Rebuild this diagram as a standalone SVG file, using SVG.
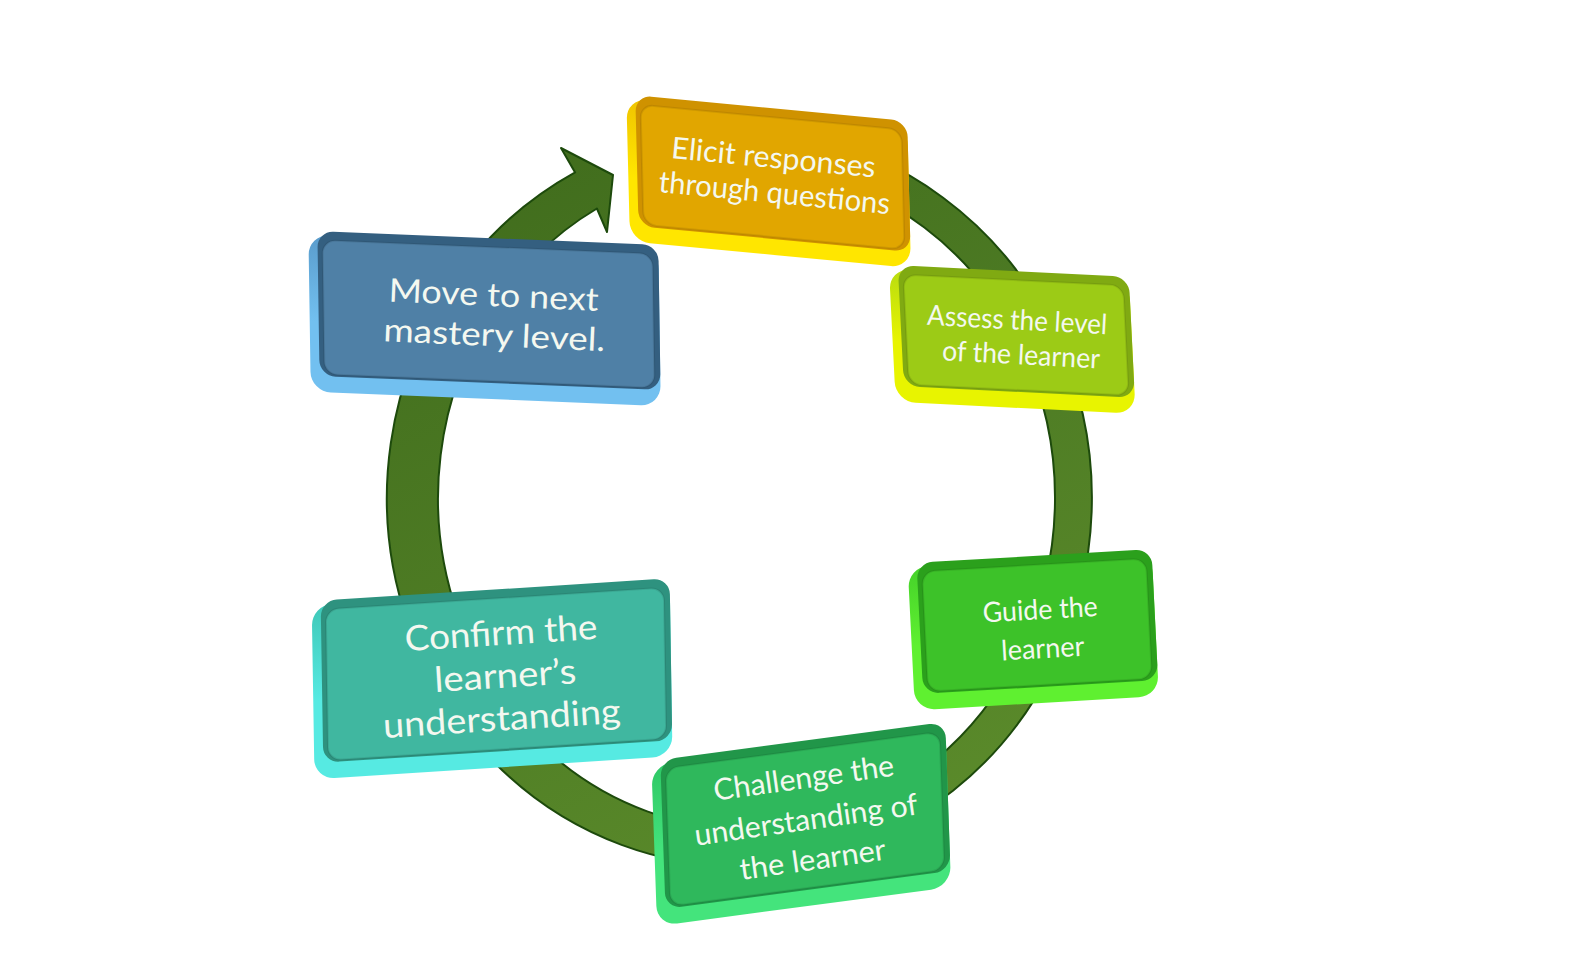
<svg xmlns="http://www.w3.org/2000/svg" width="1589" height="973" viewBox="0 0 1589 973">
<defs>
  <linearGradient id="ringG" gradientUnits="userSpaceOnUse" x1="560" y1="140" x2="900" y2="860">
    <stop offset="0" stop-color="#416d1d"/>
    <stop offset="1" stop-color="#5b8b2b"/>
  </linearGradient>
  <linearGradient id="sEl" x1="0" y1="0" x2="0" y2="1"><stop offset="0" stop-color="#f0c400"/><stop offset="0.55" stop-color="#ffe600"/></linearGradient>
  <linearGradient id="sMo" x1="0" y1="0" x2="0" y2="1"><stop offset="0" stop-color="#5a9ccc"/><stop offset="0.55" stop-color="#72c0f0"/></linearGradient>
  <linearGradient id="sAs" x1="0" y1="0" x2="0" y2="1"><stop offset="0" stop-color="#b8dc10"/><stop offset="0.55" stop-color="#e8f400"/></linearGradient>
  <linearGradient id="sGu" x1="0" y1="0" x2="0" y2="1"><stop offset="0" stop-color="#45d22a"/><stop offset="0.55" stop-color="#5ff030"/></linearGradient>
  <linearGradient id="sCo" x1="0" y1="0" x2="0" y2="1"><stop offset="0" stop-color="#3fc8b8"/><stop offset="0.55" stop-color="#56eae2"/></linearGradient>
  <linearGradient id="sCh" x1="0" y1="0" x2="0" y2="1"><stop offset="0" stop-color="#2ec866"/><stop offset="0.55" stop-color="#44e47c"/></linearGradient>
</defs>
<style>
  .lbl{font-family:Lato,"Open Sans","Liberation Sans",sans-serif;fill:#f4f8f0;text-anchor:middle;}
  .ring{fill:url(#ringG);stroke:#1d4a0c;stroke-width:2;stroke-linejoin:round}
  .face{stroke:#000;stroke-opacity:0.08;stroke-width:2}
</style>
<rect width="1589" height="973" fill="#ffffff"/>
<g id="connectors">
  <path class="ring" d="M800.7,135.6 A352.5,368 0 1 1 575.1,172.4 L561,148 L613,175 L607,232 L596.9,208.5 A308.5,331 0 1 0 800.1,172 Z"/>
</g>
<g id="node-elicit">
  <g transform="matrix(1,0.095,0.025,1,772,177)">
    <rect x="-144" y="-65" width="281" height="143" rx="20" fill="url(#sEl)"/>
    <rect x="-135" y="-69" width="272" height="131" rx="16" fill="#cf9200"/>
    <rect class="face" x="-130" y="-60" width="261" height="120" rx="13" fill="#e1a600"/>
  </g>
  <g transform="translate(771.5,179.75) rotate(5.5)">
    <text class="lbl" font-size="30" x="0" y="-12" textLength="205" lengthAdjust="spacingAndGlyphs">Elicit responses</text>
    <text class="lbl" font-size="30" x="4.3" y="23" textLength="232" lengthAdjust="spacingAndGlyphs">through questions</text>
  </g>
</g>
<g id="node-assess">
  <g transform="matrix(1,0.05,0.05,1,1016,335)">
    <rect x="-124" y="-60" width="240" height="133" rx="20" fill="url(#sAs)"/>
    <rect x="-115" y="-64" width="231" height="121" rx="16" fill="#80aa12"/>
    <rect class="face" x="-110" y="-55" width="220" height="110" rx="13" fill="#9ccb16"/>
  </g>
  <g transform="translate(1015.75,336) rotate(3)">
    <text class="lbl" font-size="28" x="0.6" y="-6.5" textLength="180" lengthAdjust="spacingAndGlyphs">Assess the level</text>
    <text class="lbl" font-size="28" x="6.25" y="28" textLength="158" lengthAdjust="spacingAndGlyphs">of the learner</text>
  </g>
</g>
<g id="node-guide">
  <g transform="matrix(1,-0.058,0.05,1,1037,625)">
    <rect x="-126" y="-65" width="244" height="143" rx="20" fill="url(#sGu)"/>
    <rect x="-117" y="-69" width="235" height="131" rx="16" fill="#2ba01c"/>
    <rect class="face" x="-112" y="-60" width="224" height="120" rx="13" fill="#3dc229"/>
  </g>
  <g transform="translate(1036.75,625) rotate(-3.3)">
    <text class="lbl" font-size="28" x="4.3" y="-5.5" textLength="115" lengthAdjust="spacingAndGlyphs">Guide the</text>
    <text class="lbl" font-size="28" x="4.6" y="33.4" textLength="83" lengthAdjust="spacingAndGlyphs">learner</text>
  </g>
</g>
<g id="node-challenge">
  <g transform="matrix(1,-0.133,0.035,1,805,819)">
    <rect x="-151" y="-74" width="294" height="161" rx="20" fill="url(#sCh)"/>
    <rect x="-142" y="-78" width="285" height="149" rx="16" fill="#219649"/>
    <rect class="face" x="-137" y="-69" width="274" height="138" rx="13" fill="#2fb85c"/>
  </g>
  <g transform="translate(805,818) rotate(-8)">
    <text class="lbl" font-size="30" x="4.2" y="-29.5" textLength="182" lengthAdjust="spacingAndGlyphs">Challenge the</text>
    <text class="lbl" font-size="30" x="0.7" y="12.2" textLength="225" lengthAdjust="spacingAndGlyphs">understanding of</text>
    <text class="lbl" font-size="30" x="1.8" y="52.5" textLength="147" lengthAdjust="spacingAndGlyphs">the learner</text>
  </g>
</g>
<g id="node-confirm">
  <g transform="matrix(1,-0.064,0.016,1,496,674)">
    <rect x="-183" y="-80.5" width="358" height="174" rx="20" fill="url(#sCo)"/>
    <rect x="-174" y="-84.5" width="349" height="162" rx="16" fill="#2e927f"/>
    <rect class="face" x="-169" y="-75.5" width="338" height="151" rx="13" fill="#40b7a0"/>
  </g>
  <g transform="translate(496.25,674.25) rotate(-3.6)">
    <text class="lbl" font-size="35" x="7.3" y="-28.9" textLength="193" lengthAdjust="spacingAndGlyphs">Confirm the</text>
    <text class="lbl" font-size="35" x="8.8" y="14" textLength="142" lengthAdjust="spacingAndGlyphs">learner’s</text>
    <text class="lbl" font-size="35" x="2.7" y="56.5" textLength="238" lengthAdjust="spacingAndGlyphs">understanding</text>
  </g>
</g>
<g id="node-move">
  <g transform="matrix(1,0.041,0.015,1,488.5,314)">
    <rect x="-179" y="-72" width="350" height="157" rx="20" fill="url(#sMo)"/>
    <rect x="-170" y="-76" width="341" height="145" rx="16" fill="#345f80"/>
    <rect class="face" x="-165" y="-67" width="330" height="134" rx="13" fill="#4f80a6"/>
  </g>
  <g transform="translate(489.75,316) rotate(2.6)">
    <text class="lbl" font-size="32.5" x="3" y="-10" textLength="210" lengthAdjust="spacingAndGlyphs">Move to next</text>
    <text class="lbl" font-size="32.5" x="5.4" y="30" textLength="222" lengthAdjust="spacingAndGlyphs">mastery level.</text>
  </g>
</g>
</svg>
